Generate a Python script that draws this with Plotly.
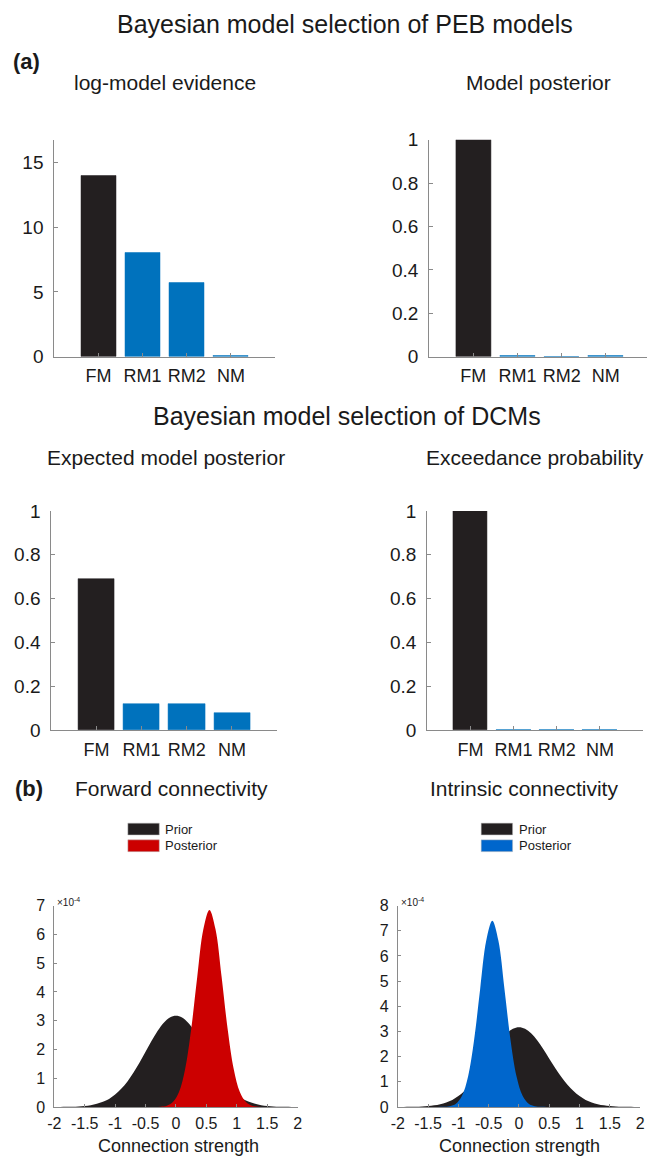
import plotly.graph_objects as go

# The page body has an 8 px margin, so the figure is sized and placed to compensate.
PAGE_W, PAGE_H = 655, 1169
OFF = 8
W, H = PAGE_W - OFF, PAGE_H - OFF

# ---------------- data ----------------
models = ["FM", "RM1", "RM2", "NM"]
model_pos = [1, 2, 3, 4]

log_evidence = [14.0, 8.0, 5.68, 0.06]
peb_posterior = [1.0, 0.004, 0.002, 0.003]
expected_posterior = [0.69, 0.12, 0.12, 0.078]
exceedance_prob = [1.0, 0.002, 0.002, 0.002]

bar_colors = ["#231f20", "#0072bd", "#0072bd", "#0072bd"]

# densities (values in units of 1e-4)
prior_x = [-2.0, -1.9, -1.8, -1.7, -1.6, -1.5, -1.4, -1.3, -1.2, -1.1, -1.0,
           -0.9, -0.8, -0.7, -0.6, -0.5, -0.4, -0.3, -0.2, -0.1, 0.0,
           0.1, 0.2, 0.3, 0.4, 0.5, 0.6, 0.7, 0.8, 0.9, 1.0,
           1.1, 1.2, 1.3, 1.4, 1.5, 1.6, 1.7, 1.8, 1.9, 2.0]
prior_y = [0.001, 0.002, 0.005, 0.010, 0.019, 0.035, 0.063, 0.11, 0.18, 0.28, 0.43,
           0.63, 0.88, 1.19, 1.54, 1.92, 2.30, 2.65, 2.93, 3.11, 3.17,
           3.11, 2.93, 2.65, 2.30, 1.92, 1.54, 1.19, 0.88, 0.63, 0.43,
           0.28, 0.18, 0.11, 0.063, 0.035, 0.019, 0.010, 0.005, 0.002, 0.001]

fwd_post_x = [-0.45, -0.35, -0.25, -0.15, -0.05, 0.05, 0.15, 0.25, 0.35, 0.45, 0.55,
              0.65, 0.75, 0.85, 0.95, 1.05, 1.15, 1.25, 1.35, 1.45, 1.55]
fwd_post_y = [0.0, 0.001, 0.009, 0.043, 0.17, 0.52, 1.31, 2.70, 4.53, 6.18, 6.85,
              6.18, 4.53, 2.70, 1.31, 0.52, 0.17, 0.043, 0.009, 0.001, 0.0]

int_post_x = [-1.44, -1.34, -1.24, -1.14, -1.04, -0.94, -0.84, -0.74, -0.64, -0.54, -0.44,
              -0.34, -0.24, -0.14, -0.04, 0.06, 0.16, 0.26, 0.36, 0.46, 0.56]
int_post_y = [0.0, 0.001, 0.005, 0.029, 0.125, 0.44, 1.21, 2.67, 4.70, 6.61, 7.40,
              6.61, 4.70, 2.67, 1.21, 0.44, 0.125, 0.029, 0.005, 0.001, 0.0]

dist_xticks = [-2, -1.5, -1, -0.5, 0, 0.5, 1, 1.5, 2]
dist_xticklabels = ["-2", "-1.5", "-1", "-0.5", "0", "0.5", "1", "1.5", "2"]

# ---------------- style ----------------
FONT = "Liberation Sans, Arial, Helvetica, sans-serif"
TXT = "#1a1a1a"
AX = "#8a8a8a"
BLACK = "#231f20"
RED = "#cc0000"
BLUE2 = "#0066cc"


def fx(px):
    return (px - OFF) / W


def fy(py):
    return 1 - (py - OFF) / H


fig = go.Figure()

bar_panels = [
    (log_evidence, "x", "y", (48, 273), (132, 353), [0, 16.75], [0, 5, 10, 15], ["0", "5", "10", "15"]),
    (peb_posterior, "x2", "y2", (430, 655), (132, 353), [0, 1], [0, 0.2, 0.4, 0.6, 0.8, 1], ["0", "0.2", "0.4", "0.6", "0.8", "1"]),
    (expected_posterior, "x3", "y3", (45, 275), (510, 733.5), [0, 1], [0, 0.2, 0.4, 0.6, 0.8, 1], ["0", "0.2", "0.4", "0.6", "0.8", "1"]),
    (exceedance_prob, "x4", "y4", (428, 648), (510, 733.5), [0, 1], [0, 0.2, 0.4, 0.6, 0.8, 1], ["0", "0.2", "0.4", "0.6", "0.8", "1"]),
]

layout_axes = {}
for i, (vals, xa, ya, (x0, x1), (y0, y1), yr, ytv, ytt) in enumerate(bar_panels):
    fig.add_trace(go.Bar(
        x=model_pos, y=vals, xaxis=xa, yaxis=ya, width=0.8,
        marker=dict(color=bar_colors, line=dict(color=bar_colors, width=0.5)),
        showlegend=False, hoverinfo="skip"))
    xkey = "xaxis" if xa == "x" else "xaxis" + xa[1:]
    ykey = "yaxis" if ya == "y" else "yaxis" + ya[1:]
    layout_axes[xkey] = dict(
        domain=[fx(x0), min(fx(x1), 1)], anchor=ya, range=[0, 5],
        tickvals=model_pos, ticktext=models, showline=True, linecolor=AX, linewidth=1,
        ticks="inside", ticklen=4, tickcolor=AX, showgrid=False, zeroline=False,
        tickfont=dict(size=18, color=TXT, family=FONT), ticklabelstandoff=3, fixedrange=True)
    layout_axes[ykey] = dict(
        domain=[fy(y1), fy(y0)], anchor=xa, range=yr,
        tickvals=ytv, ticktext=ytt, showline=True, linecolor=AX, linewidth=1,
        ticks="inside", ticklen=4, tickcolor=AX, showgrid=False, zeroline=False,
        tickfont=dict(size=19, color=TXT, family=FONT), ticklabelstandoff=6, fixedrange=True)

dist_panels = [
    (fwd_post_x, fwd_post_y, RED, "x5", "y5", (48, 296), [0, 7], list(range(0, 8))),
    (int_post_x, int_post_y, BLUE2, "x6", "y6", (398, 645), [0, 8], list(range(0, 9))),
]
for (px_, py_, col, xa, ya, (x0, x1), yr, ytv) in dist_panels:
    fig.add_trace(go.Scatter(
        x=prior_x, y=prior_y, xaxis=xa, yaxis=ya, mode="lines", fill="tozeroy",
        line=dict(width=0, shape="spline", color=BLACK), fillcolor=BLACK,
        showlegend=False, hoverinfo="skip"))
    fig.add_trace(go.Scatter(
        x=px_, y=py_, xaxis=xa, yaxis=ya, mode="lines", fill="tozeroy",
        line=dict(width=0, shape="spline", color=col), fillcolor=col,
        showlegend=False, hoverinfo="skip"))
    layout_axes["xaxis" + xa[1:]] = dict(
        domain=[fx(x0), fx(x1)], anchor=ya, range=[-2, 2],
        tickvals=dist_xticks, ticktext=dist_xticklabels, showline=True, linecolor=AX,
        ticks="inside", ticklen=3, tickcolor=AX, showgrid=False, zeroline=False,
        tickfont=dict(size=16, color=TXT, family=FONT), ticklabelstandoff=2, fixedrange=True)
    layout_axes["yaxis" + ya[1:]] = dict(
        domain=[fy(1117), fy(912)], anchor=xa, range=yr,
        tickvals=ytv, showline=True, linecolor=AX,
        ticks="inside", ticklen=3, tickcolor=AX, showgrid=False, zeroline=False,
        tickfont=dict(size=16, color=TXT, family=FONT), ticklabelstandoff=5, fixedrange=True)

fig.update_layout(**layout_axes)

ann = []


def text(x, y, s, size, bold=False, xanchor="center", color=TXT):
    ann.append(dict(x=fx(x), y=fy(y), xref="paper", yref="paper", text=("<b>%s</b>" % s) if bold else s,
                    showarrow=False, xanchor=xanchor, yanchor="middle",
                    font=dict(size=size, color=color, family=FONT)))


text(344, 14, "Bayesian model selection of PEB models", 25)
text(4, 52, "(a)", 22, bold=True, xanchor="left")
text(161, 74, "log-model evidence", 21)
text(541, 74, "Model posterior", 21)
text(346, 413, "Bayesian model selection of DCMs", 25)
text(162, 456, "Expected model posterior", 21)
text(538, 456, "Exceedance probability", 21)
text(6, 793, "(b)", 22, bold=True, xanchor="left")
text(167, 793, "Forward connectivity", 21)
text(527, 793, "Intrinsic connectivity", 21)
text(175, 1157, "Connection strength", 18)
text(522, 1157, "Connection strength", 18)
text(49, 908, "×10<sup>-4</sup>", 10, xanchor="left")
text(399, 908, "×10<sup>-4</sup>", 10, xanchor="left")

shapes = []
for (sx, post_col) in [(123, RED), (483, BLUE2)]:
    for (yy, col, lab) in [(834, BLACK, "Prior"), (851, post_col, "Posterior")]:
        shapes.append(dict(type="rect", xref="paper", yref="paper",
                           x0=fx(sx), x1=fx(sx + 32), y0=fy(yy + 6), y1=fy(yy - 6),
                           fillcolor=col, line=dict(width=0.5, color="#bbbbbb")))
        text(sx + 36, yy, lab, 13, xanchor="left")

fig.update_layout(
    width=W, height=H, margin=dict(l=0, r=0, t=0, b=0),
    paper_bgcolor="white", plot_bgcolor="white",
    annotations=ann, shapes=shapes, showlegend=False, bargap=0,
    font=dict(family=FONT, color=TXT),
)

fig.write_html("out.html")
